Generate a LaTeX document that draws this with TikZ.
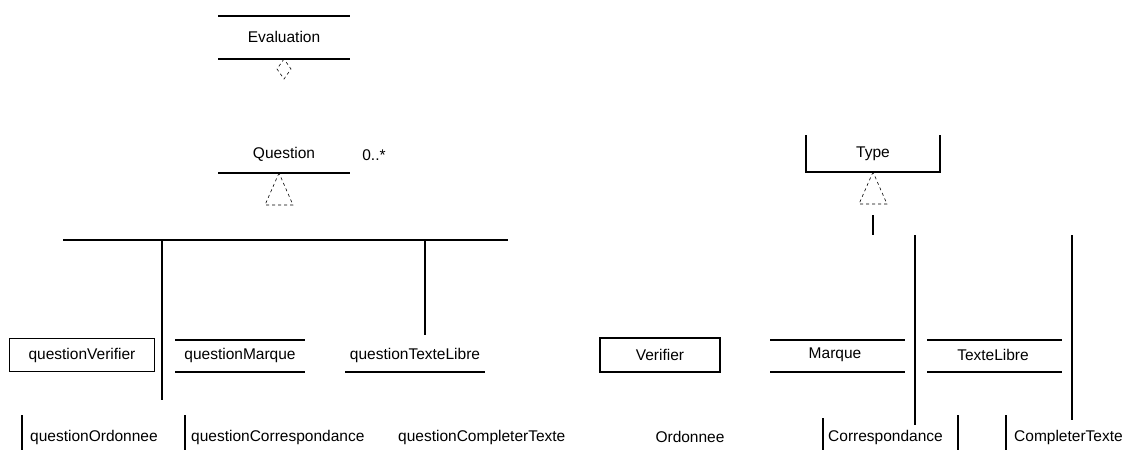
\documentclass[tikz,border=0pt]{standalone}
\usepackage{fontspec}
\setmainfont{Liberation Sans}
\begin{document}
\begin{tikzpicture}[x=1pt,y=-1pt,
  lbl/.style={font=\fontsize{15.5}{18}\selectfont, inner sep=0pt, anchor=center},
  rule/.style={line width=1.3pt},
  hollow/.style={draw, line width=0.6pt, dashed}]
\useasboundingbox (0,0) rectangle (1131,450);

% ---- Evaluation
\node[lbl] (eval) at (284,37) {Evaluation};
\draw[rule] (218,16) -- (350,16);
\draw[rule] (218,59) -- (350,59);
\coordinate (evalb) at (284,59);
\draw[hollow] (evalb) -- ++(-7,10) -- ++(7,10) -- ++(7,-10) -- cycle;

% ---- Question
\node[lbl] (quest) at (284,154) {Question};
\node[lbl] (mult) at (374,155) {0..*};
\draw[rule] (218,173) -- (350,173);
\coordinate (questb) at (279,173);
\draw[hollow] (questb) -- ++(-14,32) -- ++(28,0) -- cycle;

% ---- hierarchy bar on the left
\coordinate (barL) at (63,240);
\coordinate (barR) at (508,240);
\draw[rule] (barL) -- (barR);
\coordinate (b1) at (162,240);
\coordinate (b2) at (425,240);

% ---- left row of boxes
\node[lbl, draw, rule, minimum width=145pt, minimum height=33pt] (qv) at (82,355) {questionVerifier};
\node[lbl] (qm) at (240,355) {questionMarque};
\draw[rule] (175,340) -- (305,340);
\draw[rule] (175,372) -- (305,372);
\node[lbl] (qt) at (415,355) {questionTexteLibre};
\draw[rule] (345,372) -- (485,372);
\coordinate (qtt) at (425,335);

\coordinate (b1e) at (162,400);
\draw[rule] (b1) -- (b1e);
\draw[rule] (b2) -- (qtt);

% ---- left bottom row
\node[lbl, anchor=west] (qo) at (30,437) {questionOrdonnee};
\draw[rule] (22,415) -- (22,450);
\node[lbl, anchor=west] (qc) at (191,437) {questionCorrespondance};
\draw[rule] (185,415) -- (185,450);
\node[lbl, anchor=west] (qct) at (398,437) {questionCompleterTexte};

% ---- Type
\node[lbl] (type) at (873,154) {Type};
\draw[rule] (806,135) -- (806,172) -- (940,172) -- (940,135);
\coordinate (typeb) at (873,172);
\draw[hollow] (typeb) -- ++(-14,32) -- ++(28,0) -- cycle;
\coordinate (tyl) at (873,215);
\coordinate (tyle) at (873,235);
\draw[rule] (tyl) -- (tyle);

% ---- right row of boxes
\node[lbl, draw, rule, minimum width=120pt, minimum height=34pt] (tv) at (660,355) {Verifier};
\node[lbl] (tm) at (835,355) {Marque};
\draw[rule] (770,340) -- (905,340);
\draw[rule] (770,372) -- (905,372);
\node[lbl] (tt) at (993,355) {TexteLibre};
\draw[rule] (927,340) -- (1062,340);
\draw[rule] (927,372) -- (1062,372);

\coordinate (r1) at (915,235);
\coordinate (r1e) at (915,425);
\coordinate (r2) at (1072,235);
\coordinate (r2e) at (1072,420);
\draw[rule] (r1) -- (r1e);
\draw[rule] (r2) -- (r2e);

% ---- right bottom row
\node[lbl] (to) at (690,437) {Ordonnee};
\node[lbl, anchor=west] (tc) at (828,437) {Correspondance};
\draw[rule] (823,418) -- (823,450);
\draw[rule] (958,415) -- (958,450);
\node[lbl, anchor=west] (tct) at (1014,437) {CompleterTexte};
\draw[rule] (1006,415) -- (1006,450);
\end{tikzpicture}
\end{document}
